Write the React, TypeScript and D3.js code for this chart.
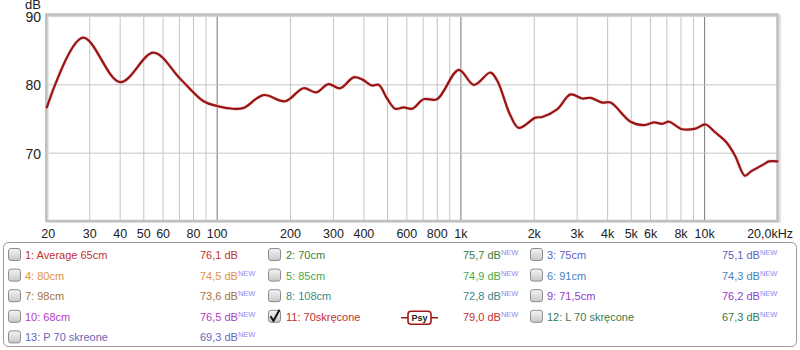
import React from "react";
import * as d3 from "d3";

const freqs = [20, 28.1, 40, 54.8, 70.5, 87.9, 99.7, 116, 128, 155, 190, 226, 255, 286, 320, 363, 393, 432, 460, 498, 538, 582, 631, 703, 798, 980, 1130, 1322, 1410, 1597, 1727, 2023, 2155, 2481, 2817, 3147, 3404, 3803, 4113, 4968, 5634, 6195, 6702, 7134, 8099, 9181, 10090, 11000, 12280, 13300, 14620, 15450, 17530, 18370, 19900];
const dbs = [76.7, 86.9, 80.4, 84.7, 80.9, 77.6, 76.9, 76.5, 76.6, 78.5, 77.6, 79.5, 78.9, 80.1, 79.5, 81.1, 80.8, 79.9, 80.0, 78.0, 76.5, 76.7, 76.5, 77.9, 77.9, 82.2, 80.0, 81.8, 80.6, 75.5, 73.7, 75.2, 75.3, 76.4, 78.6, 78.0, 78.1, 77.4, 77.4, 74.6, 74.1, 74.5, 74.3, 74.6, 73.5, 73.6, 74.2, 73.1, 71.6, 69.7, 66.7, 67.3, 68.4, 68.8, 68.8];

const gridFreqs = [20, 30, 40, 50, 60, 70, 80, 90, 100, 200, 300, 400, 500, 600, 700, 800, 900, 1000, 2000, 3000, 4000, 5000, 6000, 7000, 8000, 9000, 10000, 20000];
const decadeFreqs = [100, 1000, 10000];
const xTickValues = [20, 30, 40, 50, 60, 80, 100, 200, 300, 400, 600, 800, 1000, 2000, 3000, 4000, 5000, 6000, 8000, 10000, 20000];
const xTickLabels = ["20", "30", "40", "50", "60", "80", "100", "200", "300", "400", "600", "800", "1k", "2k", "3k", "4k", "5k", "6k", "8k", "10k", "20,0kHz"];
const yTicks = [70, 80, 90];
const yLabels = ["70", "80", "90"];

const legendLabels = ["1: Average 65cm", "2: 70cm", "3: 75cm", "4: 80cm", "5: 85cm", "6: 91cm", "7: 98cm", "8: 108cm", "9: 71,5cm", "10: 68cm", "11: 70skręcone", "12: L 70 skręcone", "13: P 70 skreone"];
const legendValues = ["76,1 dB", "75,7 dB", "75,1 dB", "74,5 dB", "74,9 dB", "74,3 dB", "73,6 dB", "72,8 dB", "76,2 dB", "76,5 dB", "79,0 dB", "67,3 dB", "69,3 dB"];
const legendNew = [false, true, true, true, true, true, true, true, true, true, true, true, true];
const legendChecked = [false, false, false, false, false, false, false, false, false, false, true, false, false];
const legendColors = ["#c0302f", "#3d7d3d", "#5f5fbf", "#e0913f", "#48a848", "#4a82c0", "#a4733f", "#3a8a8a", "#9040c8", "#b040c0", "#c0302f", "#3a7a4a", "#6666b8"];

const W = 800, H = 350;
const x = d3.scaleLog().domain([20, 20000]).range([46.8, 778]);
const y = d3.scaleLinear().domain([60, 90]).range([221.5, 16.5]);

export default function App() {
  const line = d3.line<number>()
    .x((_, i) => x(freqs[i]))
    .y((d) => y(d))
    .curve(d3.curveCatmullRom.alpha(0.5));
  const pathD = line(dbs) || "";
  const colX = [8, 268, 530];
  const textX = [25, 286, 547];
  const valX = [200, 463, 722];
  const rowY = (r: number) => 255 + r * 20.6;
  const font = "Arial, 'Liberation Sans', sans-serif";

  return (
    <svg width={W} height={H} style={{ position: "absolute", left: 0, top: 0, background: "#fff" }} fontFamily={font}>
      <defs>
        <linearGradient id="cb" x1="0" y1="0" x2="0" y2="1">
          <stop offset="0" stopColor="#f4f4f4" />
          <stop offset="1" stopColor="#c8c8c8" />
        </linearGradient>
      </defs>
      <rect x={0} y={0} width={W} height={H} fill="#fff" />
      <rect x={x(20)} y={15} width={x(20000) - x(20)} height={221.5 - 15} fill="#fff" />
      {gridFreqs.map((f, i) => (
        <line key={"g" + i} x1={x(f)} x2={x(f)} y1={15} y2={221.5}
          stroke={decadeFreqs.includes(f) ? "#777" : "#c4c4c4"} strokeWidth={1} />
      ))}
      {yTicks.map((v, i) => (
        <line key={"h" + i} x1={x(20)} x2={x(20000)} y1={y(v)} y2={y(v)} stroke="#c4c4c4" strokeWidth={1} />
      ))}
      <rect x={x(20) + 1} y={15.5} width={x(20000) - x(20) + 1} height={221.5 - 15} fill="none" stroke="#e2e2e2" strokeWidth={2} />
      <rect x={x(20) - 0.5} y={14.5} width={x(20000) - x(20)} height={221.5 - 15} fill="none" stroke="#c0c0c0" strokeWidth={2.5} />
      <path d={pathD} fill="none" stroke="#f0c0c0" strokeWidth={3.6} strokeLinejoin="round" strokeLinecap="round" opacity={0.6} />
      <path d={pathD} fill="none" stroke="#981414" strokeWidth={2.2} strokeLinejoin="round" strokeLinecap="round" />
      <text x={41} y={9} fontSize={13} textAnchor="end" fill="#222">dB</text>
      {yTicks.map((v, i) => (
        <text key={"yl" + i} x={41} y={y(v) + 5.5} fontSize={14} textAnchor="end" fill="#222">{yLabels[i]}</text>
      ))}
      {xTickValues.map((f, i) => {
        const last = i === xTickValues.length - 1;
        return (
          <text key={"xl" + i} x={last ? 793 : x(f) + (i === 0 ? 1.5 : 0)} y={238} fontSize={12.5}
            textAnchor={last ? "end" : "middle"} fill="#222">{xTickLabels[i]}</text>
        );
      })}
      <rect x={3.5} y={242.5} width={793} height={104} rx={5} fill="#fff" stroke="#9a9a9a" strokeWidth={1} />
      {legendLabels.map((lab, i) => {
        const c = i % 3, r = Math.floor(i / 3);
        const cy = rowY(r);
        return (
          <g key={"lg" + i}>
            <rect x={colX[c] + 0.5} y={cy - 6.5} width={12} height={12} rx={2.5} fill="url(#cb)" stroke="#8c8c8c" strokeWidth={1} />
            {legendChecked[i] && (
              <path d={`M${colX[c] + 2.5},${cy - 0.5} L${colX[c] + 5.5},${cy + 4} L${colX[c] + 11.5},${cy - 7}`} fill="none" stroke="#111" strokeWidth={2} />
            )}
            <text x={textX[c]} y={cy + 4} fontSize={11} fill={legendColors[i]}>{lab}</text>
            <text x={valX[c]} y={cy + 4} fontSize={11} fill={legendColors[i]}>
              {legendValues[i]}
              {legendNew[i] && <tspan dy={-4} fontSize={7.5} fill="#8c8cf0">NEW</tspan>}
            </text>
            {legendChecked[i] && (
              <g>
                <line x1={401} x2={438} y1={cy + 1} y2={cy + 1} stroke="#a01818" strokeWidth={1.6} />
                <rect x={408} y={cy - 5.5} width={23} height={13} rx={3} fill="#fff" stroke="#a01818" strokeWidth={1.6} />
                <text x={419.5} y={cy + 4.5} fontSize={9} fontWeight="bold" textAnchor="middle" fill="#222">Psy</text>
              </g>
            )}
          </g>
        );
      })}
    </svg>
  );
}
